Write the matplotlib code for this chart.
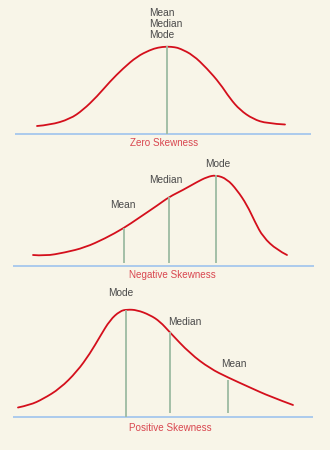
import matplotlib
matplotlib.use("Agg")
import matplotlib.pyplot as plt
from matplotlib.path import Path
from matplotlib.patches import PathPatch

plt.rcParams['font.family'] = ['Liberation Sans', 'DejaVu Sans']

# values (x along the axis, height above the baseline)
zero_x = [37, 50, 70, 83, 97, 110, 123, 137, 150, 158, 167, 175, 180, 193, 207, 220, 230, 240, 253, 267, 285]
zero_h = [8.5, 9.5, 15.5, 24.5, 38, 53, 66, 78, 84.5, 87, 88, 87.3, 86, 79.5, 66, 51, 36, 24.5, 15.5, 11, 10]
zero_marks = [166.5]
zero_tops = [88]
zero_labels = ["Mean\nMedian\nMode"]

neg_x = [33, 45, 65, 85, 105, 124, 138, 158, 169, 183, 197, 207, 216, 227, 237, 247, 255, 263, 277, 287]
neg_h = [11, 10, 13.5, 18.5, 27.5, 38, 47.5, 61, 69, 76, 84, 89, 91, 87, 76, 61, 44, 29, 16, 11]
neg_marks = [124, 169, 216]
neg_tops = [38, 69, 91]
neg_labels = ["Mean", "Median", "Mode"]

pos_x = [18, 30, 43, 60, 77, 90, 100, 110, 120, 127, 137, 150, 160, 170, 190, 210, 228, 250, 270, 293]
pos_h = [9, 11.5, 17.5, 28, 45, 63, 80, 96.5, 105.5, 107, 106.5, 101.5, 95, 84, 63, 48, 39, 29, 20, 11.5]
pos_marks = [126.3, 170, 228.3]
pos_tops = [107, 84.5, 36.5]
pos_labels = ["Mode", "Median", "Mean"]

titles = ["Zero Skewness", "Negative Skewness", "Positive Skewness"]

bg = '#f8f5e8'
red = '#d40f1c'
green = '#9dbba2'
blue = '#9fc3ee'


def smooth_path(xs, ys):
    # quadratic bezier through midpoints, read points used as control points
    pts = list(zip(xs, ys))
    verts = [pts[0]]
    codes = [Path.MOVETO]
    for k in range(1, len(pts) - 1):
        mid = ((pts[k][0] + pts[k + 1][0]) / 2, (pts[k][1] + pts[k + 1][1]) / 2)
        if k == len(pts) - 2:
            mid = pts[-1]
        verts += [pts[k], mid]
        codes += [Path.CURVE3, Path.CURVE3]
    return Path(verts, codes)


fig = plt.figure(figsize=(3.3, 4.5), dpi=100, facecolor=bg)

# (top row, bottom row, baseline row, baseline start, baseline end, line bottoms, label offsets px, title x, title gap)
panels = [
    (0, 150, 134.5, 15, 311, [0], [(-1, 22.5)], 164.5, 8.5, zero_x, zero_h, zero_marks, zero_tops, zero_labels),
    (150, 295, 266, 13, 314, [3, 3, 3], [(-1, 23), (-3, 17), (2, 11)], 172, 9, neg_x, neg_h, neg_marks, neg_tops, neg_labels),
    (295, 450, 416.5, 13, 313, [0, 4, 4], [(-6, 16), (14.5, 10), (6, 16)], 170, 11.5, pos_x, pos_h, pos_marks, pos_tops, pos_labels),
]

for i, (top, bot, base, bx0, bx1, bottoms, offs, tx, tgap, xs, hs, marks, tops, labels) in enumerate(panels):
    ax = fig.add_axes([0, 1 - bot / 450, 1, (bot - top) / 450])
    ax.set_xlim(0, 330)
    ax.set_ylim(-(bot - base), base - top)
    ax.axis('off')
    ax.plot([bx0, bx1], [0, 0], color=blue, lw=1.2, solid_capstyle='butt')
    ax.vlines(marks, bottoms, tops, color=green, lw=1.3)
    ax.add_patch(PathPatch(smooth_path(xs, hs), fill=False, edgecolor=red, lw=1.3,
                           capstyle='round', joinstyle='round'))
    for m, t, lab, (dx, dy) in zip(marks, tops, labels, offs):
        ax.annotate(lab, (m, t), xytext=(dx, dy), textcoords='offset pixels',
                    ha='center', va='center', multialignment='left',
                    fontsize=7.3, color='#4a4a4a', linespacing=1.15)
    ax.annotate(titles[i], (tx, 0), xytext=(0, -tgap), textcoords='offset pixels',
                ha='center', va='center', fontsize=7.1, color='#d9464f')

fig.savefig('out.png', dpi=100, facecolor=bg)
